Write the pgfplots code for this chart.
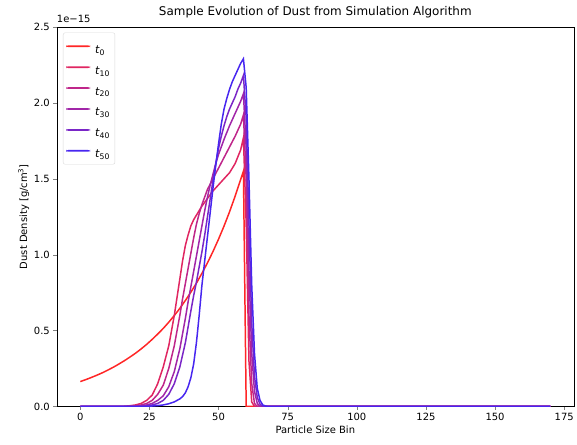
\documentclass[border=0pt]{standalone}
\usepackage{fontspec}
\setmainfont{DejaVu Sans}
\usepackage{pgfplots}
\pgfplotsset{compat=1.18}
% colours premixed with white (lines drawn with some transparency in the original)
\definecolor{c0}{rgb}{1.00,0.15,0.15}
\definecolor{c10}{rgb}{0.88,0.15,0.38}
\definecolor{c20}{rgb}{0.75,0.15,0.54}
\definecolor{c30}{rgb}{0.63,0.15,0.66}
\definecolor{c40}{rgb}{0.48,0.15,0.78}
\definecolor{c50}{rgb}{0.28,0.15,0.94}
\newcommand{\lentry}[1]{\rule{0pt}{15.5pt}\hspace{3pt}\textit{t}\textsubscript{#1}}
\begin{document}
\begin{tikzpicture}
\begin{axis}[
    name=ax,
    scale only axis,
    width=519pt, height=381pt,
    xmin=-8.5, xmax=178.5,
    ymin=0, ymax=2.5,
    xtick={0,25,...,175},
    ytick={0,0.5,...,2.5},
    yticklabel style={/pgf/number format/.cd, fixed, fixed zerofill, precision=1},
    /pgf/number format/assume math mode=true,
    tick align=outside, major tick length=3.5pt,
    xtick pos=bottom, ytick pos=left,
    tick label style={font=\fontsize{10}{12}\selectfont},
    xlabel={Particle Size Bin},
    ylabel={Dust Density [g/cm\textsuperscript{3}]},
    label style={font=\fontsize{10}{12}\selectfont},
    xlabel style={yshift=2pt},
    ylabel style={yshift=-2pt},
    title={Sample Evolution of Dust from Simulation Algorithm},
    title style={font=\fontsize{12}{14}\selectfont, yshift=-1pt},
    legend cell align=left,
    legend style={draw=black!15, rounded corners=2pt, font=\fontsize{11}{13}\selectfont,
        at={(0.012,0.985)}, anchor=north west, inner sep=3pt},
    legend image code/.code={\path[#1, draw=none, fill] (0pt,-0.9pt) rectangle (24pt,0.9pt);},
]
\addlegendimage{c0}
\addlegendentry{\lentry{0}}
\addlegendimage{c10}
\addlegendentry{\lentry{10}}
\addlegendimage{c20}
\addlegendentry{\lentry{20}}
\addlegendimage{c30}
\addlegendentry{\lentry{30}}
\addlegendimage{c40}
\addlegendentry{\lentry{40}}
\addlegendimage{c50}
\addlegendentry{\lentry{50}}
\addplot[c0, line width=1.5pt, forget plot] coordinates {
(0,0.164) (2,0.177) (4,0.191) (6,0.206) (8,0.222) (10,0.240) (12,0.259) (14,0.280)
(16,0.302) (18,0.326) (20,0.351) (22,0.379) (24,0.409) (26,0.442) (28,0.477) (30,0.514)
(32,0.555) (34,0.599) (36,0.646) (38,0.698) (40,0.753) (42,0.812) (44,0.877) (46,0.946)
(48,1.021) (50,1.102) (52,1.189) (54,1.283) (56,1.385) (58,1.495) (59,1.55)
(60,0) (170,0)
};
\addplot[c10, line width=1.5pt, forget plot] coordinates {
(0,0) (15,0) (18,0.005) (20,0.01) (22,0.02) (24,0.04) (26,0.075) (28,0.15) (30,0.26)
(32,0.40) (34,0.60) (35,0.72) (36,0.84) (37,0.96) (38,1.06) (39,1.13) (40,1.19)
(41,1.23) (42,1.26) (43,1.29) (44,1.32) (46,1.37) (48,1.42) (50,1.46) (52,1.50)
(54,1.54) (56,1.60) (58,1.69) (59,1.77) (60,1.2) (61,0.3) (62,0.03) (63,0) (170,0)
};
\addplot[c20, line width=1.5pt, forget plot] coordinates {
(0,0) (18,0) (20,0.005) (22,0.01) (24,0.02) (26,0.04) (28,0.08) (30,0.14) (32,0.25)
(34,0.40) (36,0.60) (37,0.71) (38,0.81) (39,0.91) (40,1.01) (41,1.11) (42,1.20)
(43,1.27) (44,1.33) (45,1.38) (46,1.43) (48,1.50) (50,1.57) (52,1.64) (54,1.71)
(56,1.78) (58,1.86) (59,1.92) (60,1.5) (61,0.6) (62,0.15) (63,0.02) (64,0) (170,0)
};
\addplot[c30, line width=1.5pt, forget plot] coordinates {
(0,0) (20,0) (22,0.005) (24,0.01) (26,0.02) (28,0.04) (30,0.07) (32,0.13) (34,0.23)
(36,0.38) (38,0.58) (39,0.69) (40,0.79) (41,0.89) (42,0.99) (43,1.09) (44,1.19)
(45,1.29) (46,1.38) (47,1.46) (48,1.53) (49,1.60) (50,1.66) (52,1.76) (54,1.85)
(56,1.93) (58,2.01) (59,2.06) (60,1.7) (61,0.9) (62,0.35) (63,0.1) (64,0.02) (65,0) (170,0)
};
\addplot[c40, line width=1.5pt, forget plot] coordinates {
(0,0) (22,0) (24,0.005) (26,0.01) (28,0.02) (30,0.04) (32,0.08) (34,0.15) (36,0.26)
(38,0.42) (40,0.63) (41,0.73) (42,0.82) (43,0.92) (44,1.02) (45,1.13) (46,1.25)
(47,1.37) (48,1.49) (49,1.60) (50,1.70) (51,1.78) (52,1.85) (53,1.91) (54,1.96)
(55,2.00) (56,2.04) (57,2.09) (58,2.13) (59,2.18) (60,1.9) (61,1.2) (62,0.55) (63,0.2)
(64,0.06) (65,0.015) (66,0) (170,0)
};
\addplot[c50, line width=1.5pt, forget plot] coordinates {
(0,0) (24,0) (26,0.003) (28,0.006) (30,0.01) (32,0.018) (34,0.03) (36,0.05) (37,0.065)
(38,0.09) (39,0.13) (40,0.19) (41,0.28) (42,0.42) (43,0.60) (44,0.80) (45,0.96)
(46,1.12) (47,1.28) (48,1.44) (49,1.59) (50,1.73) (51,1.86) (52,1.96) (53,2.03)
(54,2.09) (55,2.14) (56,2.18) (57,2.22) (58,2.26) (59,2.29) (60,2.1) (61,1.5) (62,0.8)
(63,0.35) (64,0.12) (65,0.04) (66,0.01) (67,0.003) (68,0) (170,0)
};
\end{axis}
\node[anchor=south west, font=\fontsize{10}{12}\selectfont, inner sep=0pt] at ([yshift=4pt]ax.north west) {1e\textminus15};
\path[use as bounding box] (-57pt,-38pt) rectangle (520pt,408pt);
\end{tikzpicture}
\end{document}
